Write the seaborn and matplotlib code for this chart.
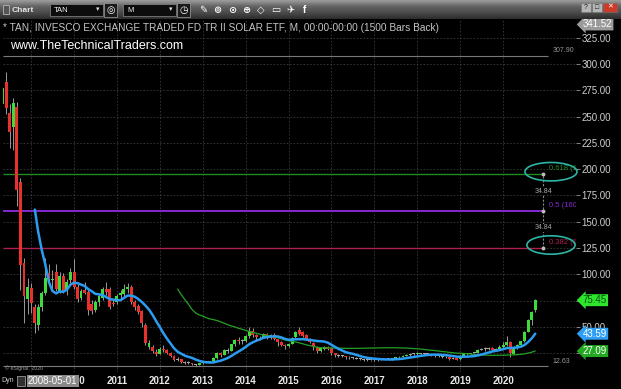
# -*- coding: utf-8 -*-
import numpy as np
import pandas as pd
import matplotlib
matplotlib.use("Agg")
import matplotlib.pyplot as plt
import matplotlib.dates as mdates
import matplotlib.ticker as mticker
from matplotlib.colors import LinearSegmentedColormap
from matplotlib.patches import Ellipse, Rectangle
import seaborn as sns

# ---- dados: TAN mensal (mai/2008 .. out/2020) ----
START = "2008-05-01"
opens = [
    262, 283, 253, 240, 259, 188, 111, 77,                                    # 2008
    87, 69, 52, 69, 82, 101, 95, 102, 84, 98, 84, 95,                         # 2009
    102, 88, 78, 85, 83, 72, 66, 74, 78, 86, 86, 73,                          # 2010
    74, 80, 81, 86, 88, 74, 70, 65, 52, 31, 31, 26.5,                         # 2011
    24.5, 29.5, 28, 25, 22, 19, 19.5, 16.5, 16.2, 15.5, 14.5, 14,             # 2012
    15.5, 16.8, 16.4, 17.3, 20.2, 25, 23.8, 28.2, 27.5, 33.5, 37.8, 36.5,     # 2013
    37, 41, 46, 42, 40, 40.5, 43, 40, 42.5, 38.5, 36, 32.5,                   # 2014
    31.5, 34, 40.5, 47, 45, 42, 39, 35, 31, 27.5, 29.5, 31,                   # 2015
    30, 25, 23, 22.5, 22, 21, 21, 20.5, 20, 19.5, 19, 18.5,                   # 2016
    18.5, 18.5, 19, 19, 19.5, 19.5, 20, 21, 21.5, 22.5, 23.5, 24,             # 2017
    24, 25, 24.5, 24, 24, 23.5, 22.5, 22, 21.5, 21, 20, 20.5,                 # 2018
    19.2, 22.5, 24, 24.5, 25, 25.2, 28.5, 29, 29.5, 30, 28.5, 29,             # 2019
    31, 33, 36, 24.5, 30, 33, 36.5, 45.5, 56.6, 66,                           # 2020
]
highs = [
    285, 292, 262, 268, 264, 192, 116, 97,
    92, 72, 72, 84, 116, 110, 104, 110, 102, 101, 96, 106,
    115, 91, 86, 93, 85, 76, 76, 81, 88, 93, 88, 77,
    81, 85, 91, 92, 90, 76, 72, 66, 54, 38, 33, 29,
    31, 32.5, 29, 26, 23, 21, 20, 17.5, 17.5, 16, 15, 16,
    17.5, 17.5, 18, 21, 26, 26, 29, 30, 34, 38.5, 40, 38.5,
    42.5, 50, 49.5, 43, 41.5, 44, 44.5, 43.5, 44, 39, 37, 34,
    34.5, 40, 46, 50, 46.5, 43, 39.5, 36, 31.5, 31, 31.5, 32,
    30.5, 25.5, 24, 23.5, 22.5, 22, 21.5, 21, 20.5, 20, 19.5, 19,
    19.5, 19.5, 19.8, 20, 20.3, 20.5, 21.5, 22, 23, 24, 24.5, 24.8,
    26.5, 25.5, 25, 25, 24.5, 24, 23, 22.5, 22, 21.5, 21.5, 21,
    23, 24.5, 25, 25.5, 25.5, 29, 30, 30.5, 31, 30.5, 30, 32.5,
    36, 41, 37, 31.5, 33.5, 37, 46.5, 57.5, 65, 76.5,
]
lows = [
    255, 252, 220, 218, 165, 85, 54, 62,
    63, 44, 47, 65, 80, 90, 86, 84, 82, 82, 80, 92,
    86, 74, 76, 81, 61, 62, 64, 70, 76, 80, 67, 70,
    72, 77, 78, 82, 72, 66, 62, 50, 33, 29, 25.5, 22.5,
    24, 26, 24, 21, 18, 17.5, 15.5, 15, 15, 13.5, 12.63, 13.8,
    15, 15.5, 15.8, 16, 20, 21.5, 23.5, 25.5, 27, 32, 34, 34,
    35.5, 39.5, 40, 37, 37.5, 39.5, 38.5, 39, 38, 32, 31.5, 29.5,
    30.5, 33.5, 39, 42.5, 40.5, 37.5, 34.5, 28.5, 25.5, 26.5, 28.5, 28.5,
    23, 21, 21.5, 21.5, 20, 19.5, 20, 19.5, 18.5, 18, 17.5, 17.5,
    17.8, 18, 18.3, 18.5, 18.8, 19, 19.5, 20.3, 21, 22, 22.8, 23,
    23.5, 23, 23, 23, 22.8, 21.5, 21.5, 20.8, 20.5, 19, 19.5, 18.5,
    19, 22, 23.3, 24, 23.5, 25, 28, 27.5, 28.5, 27, 28, 28.5,
    30, 31.5, 21.8, 24, 29, 32, 36, 45, 52, 64,
]
closes = [
    277, 258, 235, 263, 180, 109, 79, 88,
    73, 54, 69, 82, 97, 95, 96, 86, 98, 84, 93, 102,
    88, 77, 84, 82, 66, 65, 74, 79, 86, 83, 69, 72,
    79, 82, 86, 88, 74, 69, 64.5, 54, 34.5, 34.5, 27, 24.5,
    29.5, 28, 25, 22, 19, 19.8, 16.5, 16.2, 15.5, 14.5, 14, 15.5,
    16.8, 16.4, 17.3, 20.2, 25, 23.8, 28.2, 27.5, 33.5, 37.8, 36.5, 37,
    41, 46, 42, 40, 40.5, 43, 40, 42.5, 38.5, 36, 32.5, 31.5,
    34, 39.5, 45.5, 43, 41.5, 38, 35.5, 30.5, 27, 30, 30.5, 29.5,
    25, 23, 22.5, 22, 21, 21, 20.5, 20, 19.5, 19, 18.5, 18.5,
    18.5, 19, 19, 19.5, 19.5, 20, 21, 21.5, 22.5, 23.5, 24, 24,
    25, 24.5, 24, 24, 23.5, 22.5, 22, 21.5, 21, 20, 20.5, 19,
    22.5, 24, 24.5, 25, 25, 28.5, 29, 29.5, 30, 28.5, 29, 31,
    33, 36, 25, 30.7, 33, 36.5, 45.5, 56.6, 64.4, 75.45,
]

EXTREMES = [307.90, 12.63]                 # maxima / minima marcadas
FIB_RATIOS = [0.618, 0.5, 0.382]
PRICE_TAGS = [341.52, 75.45, 43.59, 27.09]  # etiquetas do eixo de precos
YEARS = list(range(2009, 2021))

TITLE = "* TAN, INVESCO EXCHANGE TRADED FD TR II SOLAR ETF, M, 00:00-00:00 (1500 Bars Back)"
SITE = "www.TheTechnicalTraders.com"

# janela visivel e ancoras das ferramentas de desenho
X_LEFT, X_RIGHT = "2008-05-06", "2021-09-13"
Y_LOW, Y_HIGH = 7.2, 341.8
FIB_END = "2020-12-06"
EXT_END = "2021-01-18"
ELL_X = "2021-02-12"

# cores
BG = "black"
GRID = "#3a3a3a"
TXT = "#cfcfcf"
UP = "#3ddc3d"
DOWN = "#e8302c"
DOJI = "#a8a8a8"
WICK = "#9a9a9a"
MA_FAST = "#2b9cf2"
MA_SLOW = "#25a025"
FIB_COLORS = ["#228a22", "#8428d0", "#b0204e"]
TEAL = "#2bb5a6"

W, H = 621, 389

sns.set_theme(style="dark", rc={
    "figure.facecolor": BG, "axes.facecolor": BG, "axes.edgecolor": BG,
    "text.color": TXT, "xtick.color": TXT, "ytick.color": TXT,
})
plt.rcParams["font.family"] = ["Liberation Sans", "DejaVu Sans"]

df = pd.DataFrame({"open": opens, "high": highs, "low": lows, "close": closes},
                  index=pd.date_range(START, periods=len(closes), freq="MS"))
df.index.name = "data"
df["sma10"] = df["close"].rolling(10).mean()
df["sma50"] = df["close"].rolling(50).mean()


def rect(x0, y0, x1, y1):
    # caixa em pixels (origem no topo) -> coords da figura
    return [x0 / W, 1 - y1 / H, (x1 - x0) / W, (y1 - y0) / H]


def ftxt(x, y, s, **kw):
    fig.text(x / W, 1 - y / H, s, **kw)


fig = plt.figure(figsize=(W / 100, H / 100), dpi=100, facecolor=BG)
ax = fig.add_axes(rect(3, 20, 576, 372))
ax.set_facecolor(BG)

# candles
corpo = (df["close"] - df["open"]).abs()
cores = np.where(corpo < 0.9, DOJI, np.where(df["close"] > df["open"], UP, DOWN))
ax.vlines(df.index, df["low"], df["high"], color=WICK, lw=0.7, zorder=2)
ax.bar(df.index, corpo.clip(lower=0.9), bottom=df[["open", "close"]].min(axis=1),
       width=25, color=cores, linewidth=0, zorder=3)

# medias moveis
fast = df["sma10"].dropna().reset_index()
slow = df["sma50"].dropna().reset_index()
sns.lineplot(data=slow, x="data", y="sma50", ax=ax, color=MA_SLOW, linewidth=0.9, zorder=4)
sns.lineplot(data=fast, x="data", y="sma10", ax=ax, color=MA_FAST, linewidth=1.8, zorder=5)

# maxima/minima
left = mdates.datestr2num(X_LEFT)
ext_end = mdates.datestr2num(EXT_END)
for v in EXTREMES:
    ax.hlines(v, left, ext_end, color="#7a7a7a", lw=0.8, zorder=1.5)
    ax.annotate(f"{v:.2f}", xy=(ext_end, v), xytext=(3, 1), textcoords="offset points",
                fontsize=5, color="#9a9a9a", ha="left", va="bottom")

# retracoes de fibonacci
hi, lo = EXTREMES
levels = [lo + r * (hi - lo) for r in FIB_RATIOS]
fib_end = mdates.datestr2num(FIB_END)
for lvl, r, c in zip(levels, FIB_RATIOS, FIB_COLORS):
    ax.hlines(lvl, left, fib_end, color=c, lw=1.0 if r != 0.5 else 1.4, zorder=1.6)
    ax.annotate(f"{r:g} ({lvl:.2f})", xy=(fib_end, lvl), xytext=(4, 1.5), textcoords="offset points",
                fontsize=5.5, color=c, ha="left", va="bottom", clip_on=True)
ax.vlines(fib_end, min(levels), max(levels), color="#8a8a8a", lw=0.8,
          linestyles=(0, (2, 1.5)), zorder=1.7)
ax.plot([fib_end] * len(levels), levels, "o", ms=1.8, color="#bbbbbb", zorder=1.8)
for a, b in zip(levels[:-1], levels[1:]):
    ax.text(fib_end, (a + b) / 2 + 1.5, f"{a - b:.2f}", fontsize=5, color="#a8a8a8",
            ha="center", va="center", zorder=2,
            bbox=dict(boxstyle="square,pad=0.05", fc=BG, ec="none"))

# elipses desenhadas a mao em volta dos rotulos
ell_x = mdates.datestr2num(ELL_X)
for lvl, wd in [(levels[0], 443), (levels[2], 410)]:
    ax.add_patch(Ellipse((ell_x, lvl + 2.5), width=wd, height=17.5, fill=False,
                         ec=TEAL, lw=1.2, clip_on=False, zorder=6))

# eixos
ax.set_xlim(left, mdates.datestr2num(X_RIGHT))
ax.set_ylim(Y_LOW, Y_HIGH)
ax.yaxis.tick_right()
ax.set_yticks(np.arange(25, 326, 25))
ax.yaxis.set_major_formatter(mticker.FormatStrFormatter("%.2f"))
ax.tick_params(axis="y", length=3, width=0.6, color="#9a9a9a", pad=1,
               labelsize=7, labelcolor=TXT)
ax.set_xticks([mdates.datestr2num(f"{a}-01-01") for a in YEARS])
ax.set_xticklabels(["" if a == 2009 else str(a) for a in YEARS])
ax.tick_params(axis="x", length=0, pad=3, labelsize=7, labelcolor="#e8e8e8")
for t in ax.get_xticklabels():
    t.set_fontweight("bold")
ax.grid(True, color=GRID, linestyle=(0, (2, 2)), linewidth=0.6)
ax.set_axisbelow(True)
for s in ax.spines.values():
    s.set_visible(False)
ax.set_xlabel("")
ax.set_ylabel("")

# etiquetas de preco no eixo direito
tag_style = [("#9a9a9a", "white"), ("#2ee62e", "#0e4f0e"), ("#2f9ff5", "white"), ("#22a822", "white")]
for v, (fc, tc) in zip(PRICE_TAGS, tag_style):
    dy = -3 if v == PRICE_TAGS[0] else 0
    ax.annotate(f"{v:.2f}", xy=(1, v), xycoords=("axes fraction", "data"),
                xytext=(5, dy), textcoords="offset points", ha="left", va="center",
                fontsize=7, color=tc, annotation_clip=False, zorder=10,
                bbox=dict(boxstyle="larrow,pad=0.1", fc=fc, ec="none"))

# textos do cabecalho
ftxt(3, 28, TITLE, fontsize=7.3, color="#c4c4c4", va="center")
ftxt(10, 46, SITE, fontsize=9.0, color="white", va="center")
ftxt(5, 368, "\u00a9 eSignal, 2020", fontsize=3.8, color="#9a9a9a", va="center")

# rodape
ftxt(1, 381, "Dyn", fontsize=5, color=TXT, va="center")
fig.add_artist(Rectangle((17 / W, 1 - 386 / H), 8 / W, 10 / H, transform=fig.transFigure,
                         fc="#303030", ec="#9a9a9a", lw=0.6, zorder=5))
ftxt(28, 381, "2008-05-01", fontsize=7, color="white", va="center", zorder=6,
     bbox=dict(boxstyle="square,pad=0.15", fc="#8a8a8a", ec="none"))

# barra de titulo da janela
top = fig.add_axes(rect(0, 0, W, 19))
grad = LinearSegmentedColormap.from_list("barra", ["#9a9a9a", "#626262", "#4c4c4c", "#2e2e2e"])
top.imshow(np.linspace(0, 1, 20).reshape(-1, 1), cmap=grad, aspect="auto", extent=(0, W, 19, 0))
top.set_xlim(0, W)
top.set_ylim(19, 0)
top.axis("off")
top.add_patch(Rectangle((3, 5), 6, 9, fc="#555555", ec="#c8c8c8", lw=0.5))
top.text(12, 10, "Chart", fontsize=6, color="#e6e6e6", weight="bold", va="center")
for x0, lab in [(50, "TAN"), (123, "M")]:
    top.add_patch(Rectangle((x0, 4), 53, 12, fc="#0c0c0c", ec="#8a8a8a", lw=0.5))
    top.text(x0 + 4, 10, lab, fontsize=5.5, color="#f0f0f0", va="center")
    top.text(x0 + 48, 10, "\u25be", fontsize=5, color="#dddddd", va="center", ha="center")
for x0, ic in [(104, "\u25ce"), (177, "\u25f7")]:
    top.add_patch(Rectangle((x0, 3), 13, 14, fc="#1a1a1a", ec="#a0a0a0", lw=0.5))
    top.text(x0 + 6.5, 10, ic, fontsize=7, color="white", va="center", ha="center")
for i, ic in enumerate(["\u270e", "\u229a", "\u2299", "\u2295", "\u25c7", "\u25ad", "\u2708", "f"]):
    top.text(203 + 14.5 * i, 10, ic, fontsize=7, color="white", va="center", ha="center",
             weight="bold")
for x0, w, fc, s in [(581, 10, "#b5b5b5", "?"), (592, 10, "#b5b5b5", "\u25a1"), (603, 14, "#cc3a2a", "\u2715")]:
    top.add_patch(Rectangle((x0, 3), w, 9, fc=fc, ec="#707070", lw=0.4))
    top.text(x0 + w / 2, 7.5, s, fontsize=5, color="#202020" if s != "\u2715" else "white",
             va="center", ha="center")

fig.savefig("out.png", dpi=100, facecolor=BG)
